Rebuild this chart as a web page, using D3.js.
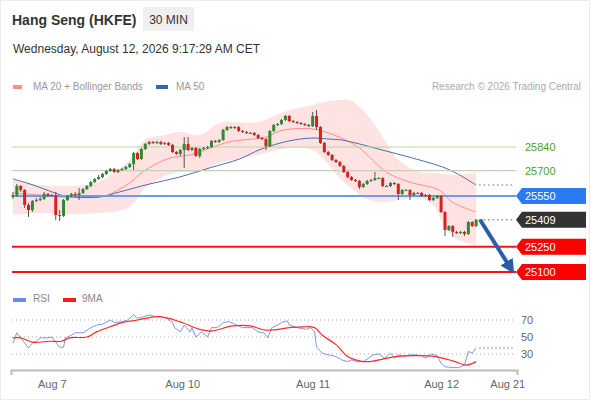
<!DOCTYPE html>
<html>
<head>
<meta charset="utf-8">
<script src="https://cdn.jsdelivr.net/npm/d3@7"></script>
<style>
  body { margin: 0; background: #fff; }
  text { font-family: "Liberation Sans", Arial, sans-serif; }
</style>
</head>
<body>
<svg width="590" height="400"></svg>
<script>
// 30 min candles, Aug 6 - Aug 12
const opens = [25544, 25556, 25609, 25585, 25497, 25467, 25520, 25526, 25532, 25562,
  25550, 25556, 25437, 25432, 25526, 25550, 25562, 25556, 25568, 25591,
  25609, 25633, 25651, 25662, 25680, 25698, 25710, 25692, 25704, 25710,
  25722, 25739, 25804, 25769, 25828, 25858, 25870, 25864, 25870, 25858,
  25864, 25852, 25810, 25799, 25822, 25858, 25822, 25834, 25787, 25828,
  25834, 25840, 25876, 25870, 25881, 25941, 25958, 25952, 25958, 25935,
  25929, 25923, 25923, 25911, 25893, 25887, 25846, 25935, 25970, 25976,
  26000, 26024, 25994, 25988, 25982, 25976, 25970, 25964, 26024, 25958,
  25864, 25810, 25793, 25763, 25751, 25728, 25692, 25662, 25645, 25639,
  25603, 25621, 25639, 25645, 25656, 25656, 25609, 25609, 25627, 25621,
  25562, 25585, 25585, 25556, 25568, 25568, 25550, 25556, 25526, 25538,
  25550, 25455, 25349, 25372, 25337, 25331, 25337, 25325, 25396, 25372]
const closes = [25556, 25609, 25585, 25497, 25467, 25520, 25526, 25532, 25562, 25550,
  25556, 25437, 25432, 25526, 25550, 25562, 25556, 25568, 25591, 25609,
  25633, 25651, 25662, 25680, 25698, 25710, 25692, 25704, 25710, 25722,
  25739, 25804, 25769, 25828, 25858, 25870, 25864, 25870, 25858, 25864,
  25852, 25810, 25799, 25822, 25858, 25822, 25834, 25787, 25828, 25834,
  25840, 25876, 25870, 25881, 25941, 25958, 25952, 25958, 25935, 25929,
  25923, 25923, 25911, 25893, 25887, 25846, 25935, 25970, 25976, 26000,
  26024, 25994, 25988, 25982, 25976, 25970, 25964, 26024, 25958, 25864,
  25810, 25793, 25763, 25751, 25728, 25692, 25662, 25645, 25639, 25603,
  25621, 25639, 25645, 25656, 25656, 25609, 25609, 25627, 25621, 25562,
  25585, 25585, 25556, 25568, 25568, 25550, 25556, 25526, 25538, 25550,
  25455, 25349, 25372, 25337, 25331, 25337, 25325, 25396, 25372, 25409]
const highs = [25574, 25621, 25615, 25591, 25508, 25526, 25538, 25544, 25574, 25568,
  25562, 25574, 25467, 25532, 25556, 25568, 25574, 25597, 25597, 25615,
  25639, 25656, 25674, 25686, 25704, 25716, 25716, 25710, 25716, 25728,
  25745, 25810, 25810, 25834, 25864, 25876, 25876, 25876, 25876, 25870,
  25870, 25858, 25816, 25828, 25899, 25899, 25840, 25840, 25834, 25840,
  25846, 25881, 25881, 25887, 25947, 25964, 25964, 25964, 25964, 25941,
  25935, 25929, 25929, 25917, 25899, 25893, 25941, 25976, 25982, 26006,
  26029, 26029, 26000, 25994, 25988, 25982, 25976, 26047, 26059, 25964,
  25870, 25816, 25799, 25769, 25757, 25733, 25698, 25668, 25651, 25645,
  25627, 25645, 25651, 25692, 25662, 25662, 25615, 25633, 25633, 25627,
  25591, 25591, 25591, 25574, 25574, 25574, 25562, 25562, 25544, 25556,
  25556, 25461, 25378, 25378, 25343, 25343, 25343, 25402, 25402, 25414]
const lows = [25532, 25544, 25574, 25479, 25426, 25455, 25514, 25520, 25526, 25544,
  25544, 25408, 25402, 25426, 25520, 25544, 25544, 25526, 25562, 25585,
  25603, 25627, 25645, 25656, 25674, 25692, 25686, 25686, 25698, 25704,
  25716, 25704, 25763, 25763, 25822, 25852, 25858, 25858, 25852, 25852,
  25846, 25804, 25793, 25787, 25716, 25816, 25816, 25781, 25775, 25822,
  25828, 25834, 25864, 25864, 25876, 25935, 25947, 25947, 25929, 25923,
  25917, 25917, 25905, 25887, 25881, 25822, 25840, 25929, 25964, 25970,
  25994, 25988, 25982, 25976, 25970, 25964, 25958, 25958, 25941, 25858,
  25804, 25787, 25757, 25745, 25722, 25686, 25656, 25639, 25633, 25591,
  25597, 25615, 25633, 25639, 25651, 25603, 25603, 25603, 25615, 25526,
  25556, 25580, 25526, 25550, 25562, 25544, 25544, 25520, 25520, 25532,
  25449, 25313, 25343, 25307, 25325, 25325, 25313, 25319, 25366, 25366]

// moving averages, [bar, value]
const ma20 = [[0, 25568], [7, 25556], [12.6, 25544], [23.6, 25550], [27.4, 25591], [30, 25627],
  [33.3, 25692], [40.3, 25775], [45.4, 25793], [55.6, 25870], [65.1, 25899], [68.5, 25935],
  [76.9, 25947], [83.8, 25899], [89, 25834], [95.9, 25692], [101.8, 25633], [109.5, 25585],
  [112.8, 25514], [119, 25455]]
const ma50 = [[0, 25651], [4.4, 25621], [10.8, 25568], [13.3, 25550], [22.3, 25544], [27.4, 25574],
  [35.1, 25621], [42.8, 25662], [50.5, 25716], [58.2, 25769], [63.8, 25828], [71, 25876],
  [76.7, 25893], [81.3, 25887], [84.6, 25881], [89, 25858], [94.9, 25822], [102.6, 25775],
  [110.3, 25722], [113.8, 25686], [119, 25615]]

// bollinger bands
const bandBars = [0, 7, 14, 22, 30, 34, 39, 43, 48, 53, 63, 71, 77, 80, 84, 86.5, 91.5, 95.5, 99, 104.5, 108, 111, 114.5, 119]
const bandUpper = [25645, 25615, 25609, 25633, 25763, 25881, 25911, 25929, 25911, 25982, 25988, 26059,
  26089, 26106, 26118, 26118, 26018, 25881, 25763, 25692, 25686, 25680, 25674, 25692]
const bandLower = [25437, 25449, 25443, 25449, 25485, 25597, 25668, 25692, 25692, 25745, 25793, 25834,
  25822, 25763, 25656, 25603, 25526, 25514, 25526, 25538, 25497, 25361, 25290, 25260]

// RSI and its 9 period MA, [bar, value]
const rsi = [[0, 43], [1, 55], [2, 49], [4, 37], [5, 43], [6, 45], [7, 49], [9, 49], [10, 50], [11, 44],
  [12, 38], [13, 38], [13.5, 49], [15, 52], [16, 55], [18, 55], [20, 61], [21.5, 64], [23, 65], [25, 70],
  [26, 67], [28, 68], [29.5, 70], [31, 76], [32, 72], [33, 73], [35, 76], [36.5, 74], [38, 74], [39.5, 72],
  [41, 67], [41.5, 61], [43, 56], [44, 64], [45.5, 56], [46, 61], [47, 50], [48.5, 56], [50, 50], [51, 61],
  [52.5, 61], [54, 67], [55.5, 68], [57.5, 64], [59, 61], [61.5, 61], [63, 56], [64.5, 55], [65.5, 49],
  [66.5, 61], [68, 64], [69, 67], [70.5, 69], [71, 64], [73, 61], [75.5, 59], [76.5, 61], [77.5, 56],
  [78, 38], [79.5, 31], [81, 29], [83, 27], [84.5, 23], [86, 21], [87, 23], [88.5, 21], [90, 21], [91, 24],
  [92.5, 29], [94, 30], [95.5, 25], [97, 31], [98, 25], [99, 29], [100.5, 27], [102, 29], [103.5, 29],
  [105, 28], [106, 25], [107.5, 30], [109, 28], [110, 19], [111, 15], [113, 14], [114.5, 14], [116, 17],
  [117, 33], [118, 31], [119, 37]]
const rsiMa = [[0, 49], [2, 49], [5, 44], [9.5, 45], [12.5, 45], [14.5, 49], [19, 50], [21.5, 56], [25, 62],
  [28, 67], [32, 70], [37, 74], [40, 72], [43.5, 67], [48, 59], [51, 57], [56.5, 63], [61, 63], [65, 58],
  [71, 61], [74.5, 62], [77.5, 61], [79.5, 52], [83, 41], [86, 27], [89, 22], [91.5, 21], [95, 24],
  [98.5, 27], [103.5, 28], [108.5, 27], [113, 22], [116.5, 17], [119, 21]]
const rsiTicks = [70, 50, 30]

const dateTicks = [10, 43.5, 77, 110, 127]
const dateLabels = ['Aug 7', 'Aug 10', 'Aug 11', 'Aug 12', 'Aug 21']

const pivot = 25550
const resistances = [25840, 25700]
const supports = [25250, 25100]
const lastPrice = 25409
const targetFrom = [120, 25409]
const targetTo = [128, 25118]

var svg = d3.select('svg')

svg.append('rect')
    .attr('x', 0.5).attr('y', 0.5)
    .attr('width', 589).attr('height', 399)
    .attr('fill', '#fff')
    .attr('stroke', '#ececec')

// header
svg.append('text')
    .attr('x', 12).attr('y', 25)
    .attr('font-size', 14).attr('font-weight', 'bold')
    .attr('fill', '#333')
    .text('Hang Seng (HKFE)')
svg.append('rect')
    .attr('x', 143).attr('y', 7)
    .attr('width', 51).attr('height', 24)
    .attr('fill', '#efefef')
svg.append('text')
    .attr('x', 168.5).attr('y', 23.5)
    .attr('text-anchor', 'middle')
    .attr('font-size', 12).attr('fill', '#333')
    .text('30 MIN')
svg.append('text')
    .attr('x', 13).attr('y', 53)
    .attr('font-size', 12).attr('fill', '#333')
    .text('Wednesday, August 12, 2026 9:17:29 AM CET')

// legend
svg.append('rect').attr('x', 13).attr('y', 85).attr('width', 9).attr('height', 4).attr('fill', '#ff8c8c')
svg.append('text').attr('x', 33).attr('y', 90).attr('font-size', 10).attr('fill', '#999')
    .text('MA 20 + Bollinger Bands')
svg.append('rect').attr('x', 156).attr('y', 85).attr('width', 12).attr('height', 4).attr('fill', '#3c64a8')
svg.append('text').attr('x', 176).attr('y', 90).attr('font-size', 10).attr('fill', '#999')
    .text('MA 50')
svg.append('text').attr('x', 581).attr('y', 90).attr('font-size', 10).attr('fill', '#aaa')
    .attr('text-anchor', 'end')
    .text('Research \u00a9 2026 Trading Central')

var xScale = d3.scaleLinear().domain([-0.5, 129.5]).range([11, 517])
var yScale = d3.scaleLinear().domain([25100, 25840]).range([272, 147])
var rScale = d3.scaleLinear().domain([30, 70]).range([354, 320])

var lineLeft = 12
var lineRight = 516
var lastX = xScale(closes.length - 1)

// bollinger band
var band = d3.area()
    .x((d, i) => xScale(bandBars[i]))
    .y0((d, i) => yScale(bandLower[i]))
    .y1((d, i) => yScale(bandUpper[i]))
    .curve(d3.curveCatmullRom)
svg.append('path')
    .attr('d', band(bandBars))
    .attr('fill', '#ffe2e2')

var maLine = d3.line()
    .x(d => xScale(d[0]))
    .y(d => yScale(d[1]))
    .curve(d3.curveCatmullRom)
svg.append('path').attr('d', maLine(ma20))
    .attr('fill', 'none').attr('stroke', '#ff8e8e').attr('stroke-width', 1)
svg.append('path').attr('d', maLine(ma50))
    .attr('fill', 'none').attr('stroke', '#4a6fb3').attr('stroke-width', 1)
svg.append('line')
    .attr('x1', lastX + 3).attr('x2', 514)
    .attr('y1', yScale(ma50[ma50.length - 1][1])).attr('y2', yScale(ma50[ma50.length - 1][1]))
    .attr('stroke', '#4a6fb3').attr('stroke-dasharray', '1.5,3')

// levels
resistances.forEach(function(v, i) {
    svg.append('line')
        .attr('x1', lineLeft).attr('x2', lineRight)
        .attr('y1', yScale(v)).attr('y2', yScale(v))
        .attr('stroke', i === 0 ? '#b5d99c' : '#c3d3b2')
        .attr('stroke-width', 1.2)
    svg.append('text')
        .attr('x', 525).attr('y', yScale(v)).attr('dy', '0.36em')
        .attr('font-size', 11).attr('fill', '#52a01e')
        .text(v)
})
svg.append('line')
    .attr('x1', lineLeft).attr('x2', lineRight)
    .attr('y1', yScale(pivot)).attr('y2', yScale(pivot))
    .attr('stroke', '#6b9cf2').attr('stroke-width', 2)
supports.forEach(function(v) {
    svg.append('line')
        .attr('x1', lineLeft).attr('x2', lineRight)
        .attr('y1', yScale(v)).attr('y2', yScale(v))
        .attr('stroke', '#ff1010').attr('stroke-width', 2)
})
svg.append('line')
    .attr('x1', lastX + 3).attr('x2', 514)
    .attr('y1', yScale(lastPrice)).attr('y2', yScale(lastPrice))
    .attr('stroke', '#555').attr('stroke-dasharray', '1.5,3')

// candles
var candles = svg.append('g').selectAll('g')
    .data(closes)
    .enter()
    .append('g')
candles.append('line')
    .attr('x1', (d, i) => xScale(i)).attr('x2', (d, i) => xScale(i))
    .attr('y1', (d, i) => yScale(highs[i])).attr('y2', (d, i) => yScale(lows[i]))
    .attr('stroke', '#555').attr('stroke-width', 1)
candles.append('rect')
    .attr('x', (d, i) => xScale(i) - 1.5)
    .attr('width', 3)
    .attr('y', (d, i) => yScale(Math.max(opens[i], closes[i])))
    .attr('height', (d, i) => Math.max(1, Math.abs(yScale(opens[i]) - yScale(closes[i]))))
    .attr('fill', (d, i) => closes[i] >= opens[i] ? '#2e8b2e' : '#d8201e')

// target arrow
svg.append('defs').append('marker')
    .attr('id', 'head')
    .attr('viewBox', '0 0 10 10')
    .attr('refX', 6).attr('refY', 5)
    .attr('markerWidth', 3.6).attr('markerHeight', 3.6)
    .attr('orient', 'auto')
    .append('path')
    .attr('d', 'M0,0L10,5L0,10Z')
    .attr('fill', '#2b5ea6')
svg.append('line')
    .attr('x1', xScale(targetFrom[0])).attr('y1', yScale(targetFrom[1]))
    .attr('x2', xScale(targetTo[0])).attr('y2', yScale(targetTo[1]))
    .attr('stroke', '#2b5ea6').attr('stroke-width', 4)
    .attr('marker-end', 'url(#head)')

// price tags
var tags = [[pivot, '#2a7af2'], [lastPrice, '#333333'], [supports[0], '#ff0000'], [supports[1], '#ff0000']]
tags.forEach(function(t) {
    var cy = yScale(t[0])
    svg.append('path')
        .attr('d', 'M516,' + cy + 'L522,' + (cy - 8) + 'L586,' + (cy - 8) + 'L586,' + (cy + 8) + 'L522,' + (cy + 8) + 'Z')
        .attr('fill', t[1])
    svg.append('text')
        .attr('x', 525).attr('y', cy).attr('dy', '0.36em')
        .attr('font-size', 11).attr('fill', '#fff')
        .text(t[0])
})

// RSI pane
svg.append('rect').attr('x', 13).attr('y', 298).attr('width', 13).attr('height', 4).attr('fill', '#6a8ce2')
svg.append('text').attr('x', 33).attr('y', 302).attr('font-size', 10).attr('fill', '#888').text('RSI')
svg.append('rect').attr('x', 63).attr('y', 298).attr('width', 13).attr('height', 4).attr('fill', '#ff1a1a')
svg.append('text').attr('x', 82).attr('y', 302).attr('font-size', 10).attr('fill', '#888').text('9MA')

rsiTicks.forEach(function(v) {
    svg.append('line')
        .attr('x1', lineLeft).attr('x2', 514)
        .attr('y1', rScale(v)).attr('y2', rScale(v))
        .attr('stroke', '#aaa').attr('stroke-dasharray', '1,3')
    svg.append('text')
        .attr('x', 521).attr('y', rScale(v)).attr('dy', '0.36em')
        .attr('font-size', 11).attr('fill', '#666')
        .text(v)
})

var rLine = d3.line()
    .x(d => xScale(d[0]))
    .y(d => rScale(d[1]))
svg.append('path').attr('d', rLine(rsi))
    .attr('fill', 'none').attr('stroke', '#7d98e6').attr('stroke-width', 1)
svg.append('path').attr('d', rLine.curve(d3.curveCatmullRom)(rsiMa))
    .attr('fill', 'none').attr('stroke', '#ff2a2a').attr('stroke-width', 1.2)
svg.append('line')
    .attr('x1', lastX + 3).attr('x2', 514)
    .attr('y1', rScale(rsi[rsi.length - 1][1])).attr('y2', rScale(rsi[rsi.length - 1][1]))
    .attr('stroke', '#7d98e6').attr('stroke-width', 1.2).attr('stroke-dasharray', '1.5,2.5')

// time axis
var xAxis = d3.axisBottom(xScale)
    .tickValues(dateTicks)
    .tickFormat((d, i) => dateLabels[i])
    .tickSizeInner(0)
    .tickSizeOuter(5)
    .tickPadding(10)
var ax = svg.append('g')
    .attr('transform', 'translate(0,370)')
    .call(xAxis)
ax.select('.domain').attr('stroke', '#bbb').attr('stroke-width', 2)
ax.selectAll('text')
    .attr('font-family', '"Liberation Sans", Arial, sans-serif')
    .attr('font-size', 11).attr('fill', '#666')
</script>
</body>
</html>
